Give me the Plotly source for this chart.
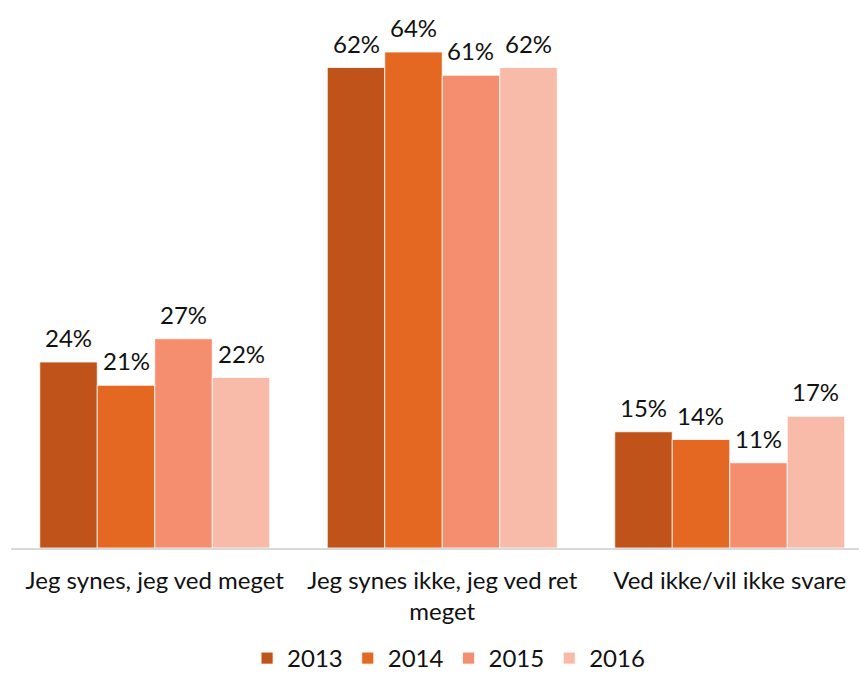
import plotly.graph_objects as go

# Survey answers by year (share of respondents, %)
categories = ["Jeg synes, jeg ved meget", "Jeg synes ikke, jeg ved ret<br>meget", "Ved ikke/vil ikke svare"]
years = ["2013", "2014", "2015", "2016"]
values_2013 = [24, 62, 15]
values_2014 = [21, 64, 14]
values_2015 = [27, 61, 11]
values_2016 = [22, 62, 17]
colors = ["#C0531A", "#E46821", "#F48E6E", "#F8BBAA"]

series = [values_2013, values_2014, values_2015, values_2016]
font_family = "Lato, 'Open Sans', sans-serif"
text_color = "#111111"
font_size = 24

fig = go.Figure()
for year, vals, col in zip(years, series, colors):
    fig.add_trace(go.Bar(
        name=year,
        x=list(range(len(categories))),
        y=vals,
        marker=dict(color=col, line=dict(color="white", width=0.8)),
    ))

# Value labels above each bar, placed on the grouped-bar offsets
n = len(years)
group_width = 0.8
annotations = []
for j, vals in enumerate(series):
    for i, v in enumerate(vals):
        annotations.append(dict(
            x=i + (j - (n - 1) / 2) * group_width / n,
            y=v,
            xref="x", yref="y",
            text=f"{v}%",
            showarrow=False,
            yanchor="bottom",
            yshift=8,
            font=dict(family=font_family, size=font_size, color=text_color),
        ))

fig.update_layout(
    width=859, height=681,
    margin=dict(l=11, r=0, t=10, b=133),
    paper_bgcolor="white", plot_bgcolor="white",
    barmode="group", bargap=0.2, bargroupgap=0,
    font=dict(family=font_family, size=font_size, color=text_color),
    annotations=annotations,
    showlegend=True,
    legend=dict(
        orientation="h", x=0.516, xanchor="center",
        yref="container", y=0.0, yanchor="bottom",
        font=dict(family=font_family, size=font_size, color=text_color),
        itemwidth=30, traceorder="normal",
    ),
    xaxis=dict(
        tickmode="array",
        tickvals=list(range(len(categories))),
        ticktext=categories,
        range=[-0.5, 2.4496],
        showline=True, linecolor="#D9D9D9", linewidth=2,
        showgrid=False, zeroline=False, ticks="",
        ticklabelstandoff=10,
        tickfont=dict(family=font_family, size=font_size, color=text_color),
    ),
    yaxis=dict(
        range=[0, 69.42],
        visible=False, showgrid=False, zeroline=False,
    ),
)

fig.write_html("out.html")
